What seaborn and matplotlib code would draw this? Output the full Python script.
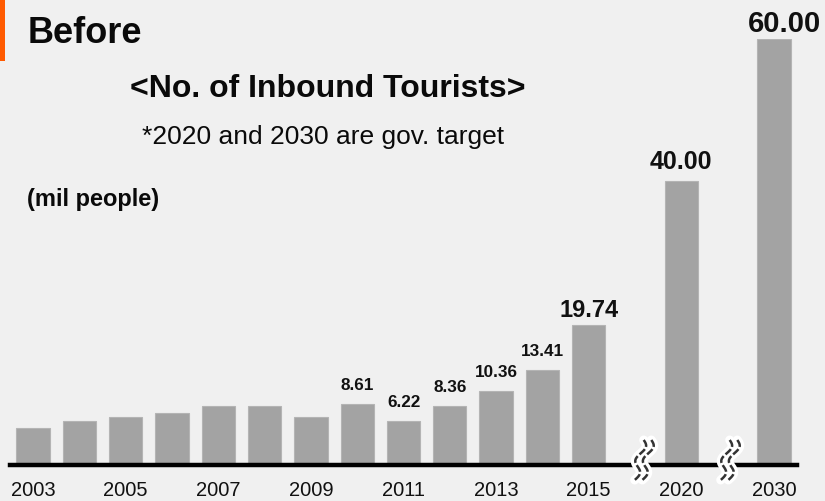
import numpy as np
import pandas as pd
import matplotlib
matplotlib.use("Agg")
import matplotlib.pyplot as plt
from matplotlib.patches import Rectangle
import seaborn as sns

# Inbound tourists to Japan (million people); 2020 and 2030 are government targets
years = [2003, 2004, 2005, 2006, 2007, 2008, 2009, 2010, 2011, 2012, 2013, 2014, 2015, 2020, 2030]
tourists = [5.21, 6.14, 6.73, 7.33, 8.35, 8.35, 6.79, 8.61, 6.22, 8.36, 10.36, 13.41, 19.74, 40.00, 60.00]
labelled_years = [2010, 2011, 2012, 2013, 2014, 2015, 2020, 2030]
tick_years = [2003, 2005, 2007, 2009, 2011, 2013, 2015, 2020, 2030]

BG = "#f0f0f0"
BAR = "#a3a3a3"

sns.set_theme(style="white")
plt.rcParams["font.family"] = ["Liberation Sans", "DejaVu Sans"]

W, H = 825, 502
fig = plt.figure(figsize=(W / 100, H / 100), dpi=100, facecolor=BG)

def fx(px):
    return px / W

def fy(py):
    return 1 - py / H

# axes spans the baseline: zero at y=466px, 60 at y=40px
ax = fig.add_axes([fx(10), fy(466), fx(797) - fx(10), (466 - 40) / H])
ax.set_facecolor(BG)

# slot positions: yearly bars side by side, then a gap (axis break) before each target year
pos = []
slot = 0
for i, y in enumerate(years):
    if i > 0 and y - years[i - 1] > 1:
        slot += 2
    elif i > 0:
        slot += 1
    pos.append(slot)

df = pd.DataFrame({"pos": pos, "year": years, "value": tourists})
sns.barplot(data=df, x="pos", y="value", native_scale=True, width=0.72,
            color=BAR, saturation=1, edgecolor="#b4b4b4", linewidth=0.8, ax=ax)

ax.set_xlim(-0.5, 16.5)
ax.set_ylim(0, 60)
ax.set_xlabel("")
ax.set_ylabel("")
ax.set_yticks([])
year_pos = dict(zip(years, pos))
ax.set_xticks([year_pos[y] for y in tick_years])
ax.set_xticklabels([str(y) for y in tick_years], fontsize=14.5, color="#111111")
ax.tick_params(axis="x", length=0, pad=11)
for s in ["top", "left", "right"]:
    ax.spines[s].set_visible(False)
ax.spines["bottom"].set_linewidth(3.2)
ax.spines["bottom"].set_color("black")

# value labels above selected bars
label_style = {2020: (18, 12.5, 0), 2030: (21, 7.5, 11), 2015: (17, 9, 0)}
for y in labelled_years:
    v = tourists[years.index(y)]
    size, off, dx = label_style.get(y, (12.3, 15, 0))
    ax.annotate(f"{v:.2f}", xy=(year_pos[y], v), xytext=(dx, off),
                textcoords="offset pixels", ha="center", va="baseline",
                fontsize=size, fontweight="bold", color="#111111",
                annotation_clip=False)

# axis-break squiggles between 2015 | 2020 and 2020 | 2030
def squiggle(xc):
    t = np.linspace(0, 1, 80)
    yy = 441 + t * 40
    paths = []
    for dx in (-3.8, 3.8):
        xx = xc + dx + 3.8 * np.sin(2 * np.pi * t * 1.5) + (0.5 - t) * 9
        paths.append(xx)
    for xx in paths:
        fig.lines.append(plt.Line2D(fx(xx), fy(yy), transform=fig.transFigure,
                                    color="white", linewidth=6.5, solid_capstyle="round"))
    for xx in paths:
        fig.lines.append(plt.Line2D(fx(xx), fy(yy), transform=fig.transFigure,
                                    color="#333333", linewidth=1.8, dashes=(3, 1)))

squiggle(643)
squiggle(729)

# headings
fig.patches.append(Rectangle((0, fy(62)), fx(5), 62 / H, transform=fig.transFigure,
                             facecolor="#ff5a00", edgecolor="none"))
fig.text(fx(28), fy(43), "Before", fontsize=26, fontweight="bold",
         color="#0a0a0a", va="baseline", ha="left")
fig.text(fx(328), fy(97), "<No. of Inbound Tourists>", fontsize=23, fontweight="bold",
         color="#0a0a0a", va="baseline", ha="center")
fig.text(fx(323), fy(144), "*2020 and 2030 are gov. target", fontsize=19,
         color="#0a0a0a", va="baseline", ha="center")
fig.text(fx(27), fy(206), "(mil people)", fontsize=17, fontweight="bold",
         color="#0a0a0a", va="baseline", ha="left")

fig.savefig("out.png", dpi=100, facecolor=BG)
